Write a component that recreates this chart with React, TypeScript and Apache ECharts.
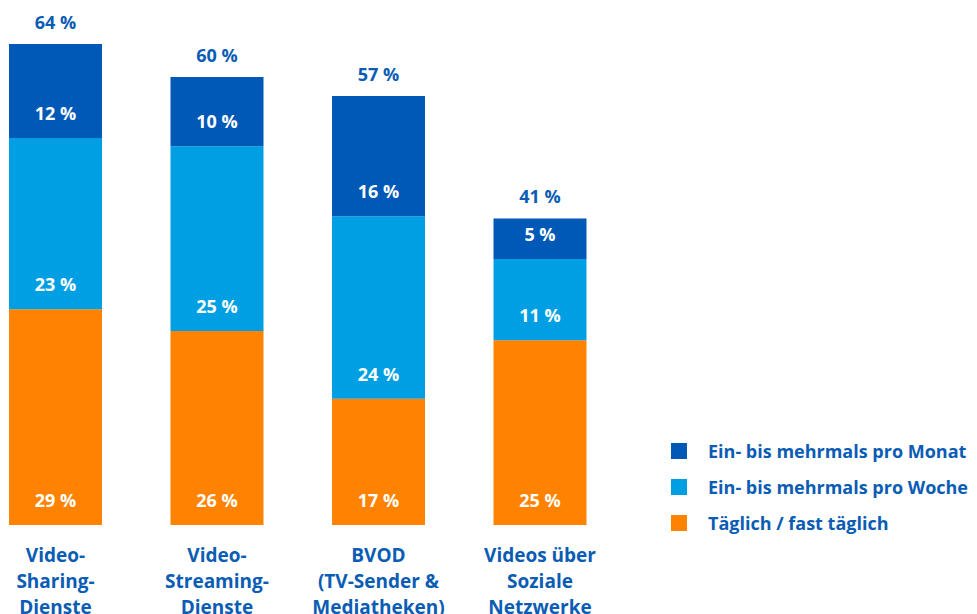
import React, { useEffect, useRef } from "react";
import * as echarts from "echarts";

const categories = [
  "Video-\nSharing-\nDienste",
  "Video-\nStreaming-\nDienste",
  "BVOD\n(TV-Sender &\nMediatheken)",
  "Videos über\nSoziale\nNetzwerke",
];
const seriesNames = [
  "Täglich / fast täglich",
  "Ein- bis mehrmals pro Woche",
  "Ein- bis mehrmals pro Monat",
];
const daily = [28.7, 25.8, 16.8, 24.6];
const weekly = [22.8, 24.6, 24.3, 10.8];
const monthly = [12.5, 9.2, 16.0, 5.4];
const dailyLabels = ["29 %", "26 %", "17 %", "25 %"];
const weeklyLabels = ["23 %", "25 %", "24 %", "11 %"];
const monthlyLabels = ["12 %", "10 %", "16 %", "5 %"];
const totalLabels = ["64 %", "60 %", "57 %", "41 %"];

const DARK = "#0058b7";
const LIGHT = "#009fe3";
const ORANGE = "#ff8300";
const TEXT = "#0a5cb4";
const FONT = "'Open Sans', 'Noto Sans', sans-serif";

export default function App() {
  const ref = useRef<HTMLDivElement>(null);
  useEffect(() => {
    if (!ref.current) return;
    const chart = echarts.init(ref.current, undefined, { renderer: "svg" });
    const segLabel = (labels: string[]) => ({
      show: true,
      position: "insideBottom" as const,
      distance: 16,
      color: "#ffffff",
      fontFamily: FONT,
      fontWeight: "bold" as const,
      fontSize: 18,
      formatter: (p: any) => labels[p.dataIndex],
    });
    const totals = daily.map((d, i) => d + weekly[i] + monthly[i]);
    chart.setOption({
      animation: false,
      grid: {
        left: 55.5,
        width: 484.5,
        top: 14,
        bottom: 89,
        containLabel: false,
        outerBoundsMode: "none",
      },
      legend: {
        orient: "vertical",
        left: 671,
        top: 442,
        padding: 0,
        itemWidth: 16,
        itemHeight: 16,
        itemGap: 18,
        icon: "rect",
        data: [seriesNames[2], seriesNames[1], seriesNames[0]],
        textStyle: {
          color: TEXT,
          fontFamily: FONT,
          fontWeight: "bold",
          fontSize: 18,
          padding: [0, 0, 0, 16],
        },
        selectedMode: false,
      },
      xAxis: {
        type: "category",
        data: categories,
        boundaryGap: false,
        axisLine: { show: false },
        axisTick: { show: false },
        splitLine: { show: false },
        axisLabel: {
          color: TEXT,
          fontFamily: FONT,
          fontWeight: "bold",
          fontSize: 19,
          lineHeight: 26,
          margin: 17,
          interval: 0,
        },
      },
      yAxis: {
        type: "value",
        min: 0,
        max: 68,
        show: false,
        splitLine: { show: false },
      },
      series: [
        {
          name: seriesNames[0],
          type: "bar",
          stack: "s",
          barWidth: 93,
          data: daily,
          itemStyle: { color: ORANGE },
          label: segLabel(dailyLabels),
        },
        {
          name: seriesNames[1],
          type: "bar",
          stack: "s",
          barWidth: 93,
          data: weekly,
          itemStyle: { color: LIGHT },
          label: segLabel(weeklyLabels),
        },
        {
          name: seriesNames[2],
          type: "bar",
          stack: "s",
          barWidth: 93,
          data: monthly,
          itemStyle: { color: DARK },
          label: segLabel(monthlyLabels),
        },
        {
          name: "total",
          type: "scatter",
          symbolSize: 0,
          silent: true,
          data: totals,
          itemStyle: { opacity: 1 },
          label: {
            show: true,
            position: "top",
            distance: 13,
            color: TEXT,
            opacity: 1,
            fontFamily: FONT,
            fontWeight: "bold",
            fontSize: 18,
            formatter: (p: any) => totalLabels[p.dataIndex],
          },
        },
      ],
    });
    return () => chart.dispose();
  }, []);
  return (
    <div
      ref={ref}
      style={{ position: "fixed", left: 0, top: 0, width: 977, height: 614, background: "#fff" }}
    />
  );
}
